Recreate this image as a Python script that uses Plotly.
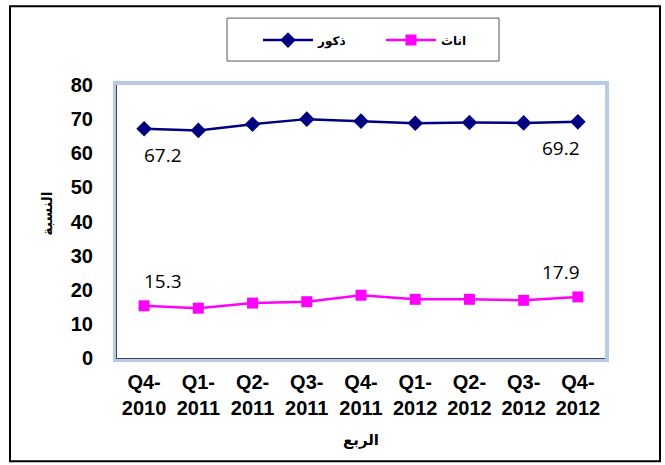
import plotly.graph_objects as go

quarters = ["Q4-<br>2010", "Q1-<br>2011", "Q2-<br>2011", "Q3-<br>2011", "Q4-<br>2011",
            "Q1-<br>2012", "Q2-<br>2012", "Q3-<br>2012", "Q4-<br>2012"]
males = [67.2, 66.7, 68.5, 70.0, 69.4, 68.8, 69.0, 68.9, 69.2]
females = [15.3, 14.6, 16.1, 16.5, 18.4, 17.2, 17.2, 16.9, 17.9]
male_name = "ذكور"
female_name = "اناث"
y_title = "النسبة"
x_title = "الربع"
y_ticks = [0, 10, 20, 30, 40, 50, 60, 70, 80]

W, H = 665, 465
L, R, T, B = 117, 605, 85, 358.5

def px(x):
    return (x - L) / (R - L)

def py(y):
    return (B - y) / (B - T)

fig = go.Figure()
fig.add_trace(go.Scatter(x=quarters, y=males, name=male_name, mode="lines+markers",
                         line=dict(color="#000080", width=2.5),
                         marker=dict(symbol="diamond", size=12, color="#000080")))
fig.add_trace(go.Scatter(x=quarters, y=females, name=female_name, mode="lines+markers",
                         line=dict(color="#FF00FF", width=2.5),
                         marker=dict(symbol="square", size=11, color="#FF00FF")))

lab_font = dict(family="Open Sans, Liberation Sans", size=19, color="black")
ann = []
for i, dx in ((0, 19), (len(quarters) - 1, -17)):
    ann.append(dict(x=quarters[i], y=males[i], text=f"{males[i]:.1f}", showarrow=False,
                    xshift=dx, yshift=-26, font=lab_font))
    ann.append(dict(x=quarters[i], y=females[i], text=f"{females[i]:.1f}", showarrow=False,
                    xshift=dx, yshift=25, font=lab_font))

ann.append(dict(xref="paper", yref="paper", x=px(47), y=py(214), text=y_title, textangle=-90,
                xanchor="center", yanchor="middle",
                showarrow=False, font=dict(family="DejaVu Sans", size=14, color="black", weight="bold")))
ann.append(dict(xref="paper", yref="paper", x=px(361), y=py(441), text=x_title,
                xanchor="center", yanchor="middle",
                showarrow=False, font=dict(family="DejaVu Sans", size=15, color="black", weight="bold")))

shapes = [
    dict(type="rect", xref="paper", yref="paper", x0=px(10), x1=px(660), y0=py(462), y1=py(6),
         line=dict(color="black", width=2), layer="below"),
    dict(type="rect", xref="paper", yref="paper", x0=px(227), x1=px(499), y0=py(61), y1=py(18),
         line=dict(color="#555555", width=1), layer="below"),
    dict(type="rect", xref="paper", yref="paper", x0=px(115), x1=px(607), y0=py(360.5), y1=py(83),
         line=dict(color="#b8cae9", width=4), layer="below"),
]

fig.update_layout(
    width=W, height=H,
    margin=dict(l=L, r=W - R, t=T, b=H - B, autoexpand=False),
    paper_bgcolor="white", plot_bgcolor="white",
    showlegend=True,
    legend=dict(orientation="h", x=px(258), y=py(40), xanchor="left", yanchor="middle",
                font=dict(family="DejaVu Sans", size=12, color="black", weight="bold"),
                bgcolor="rgba(0,0,0,0)", borderwidth=0, itemwidth=50, entrywidth=58),
    annotations=ann,
    shapes=shapes,
    xaxis=dict(type="category", range=[-0.5, len(quarters) - 0.5], showgrid=False, zeroline=False,
               showline=True, linecolor="#444444", linewidth=1, ticks="",
               tickfont=dict(family="Liberation Sans", size=20, color="black", weight="bold"),
               ticklabelstandoff=6),
    yaxis=dict(range=[0, 80], tickvals=y_ticks, showgrid=False, zeroline=False,
               showline=True, linecolor="#444444", linewidth=1, ticks="",
               tickfont=dict(family="Liberation Sans", size=20, color="black", weight="bold"),
               ticklabelstandoff=19),
)

fig.write_html("out.html", config={"displayModeBar": False},
               post_script="document.body.style.margin='0';document.body.style.overflow='hidden';")
